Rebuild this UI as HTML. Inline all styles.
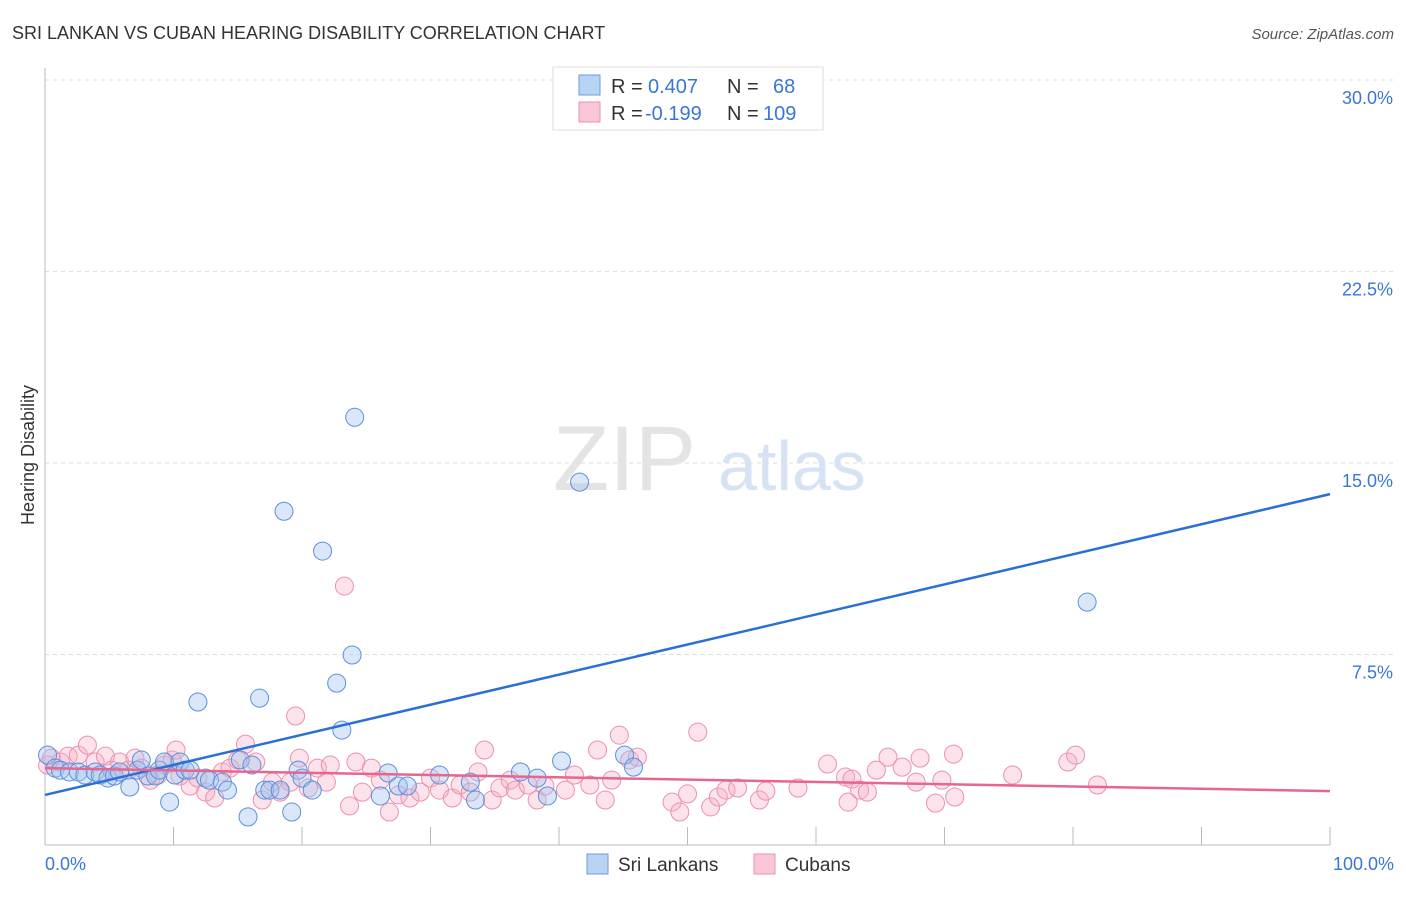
<!DOCTYPE html>
<html><head><meta charset="utf-8"><style>
body{margin:0;background:#fff;font-family:"Liberation Sans",sans-serif}
svg text{font-family:"Liberation Sans",sans-serif}
</style></head><body>
<svg id="chart" width="1406" height="892" xmlns="http://www.w3.org/2000/svg">
<text x="12" y="39" font-size="18" fill="#333">SRI LANKAN VS CUBAN HEARING DISABILITY CORRELATION CHART</text>
<text x="1394" y="39" font-size="15" fill="#555" text-anchor="end" font-style="italic">Source: ZipAtlas.com</text>
<g id="grid"></g>
<text x="553" y="490" font-size="92" fill="#e4e4e4" font-family="Liberation Serif">ZIP</text>
<text x="718" y="490" font-size="70" fill="#d6e3f5">atlas</text>
<g id="pts"></g>
<g id="lines"></g>
<text transform="translate(34,455) rotate(-90)" font-size="18" fill="#333" text-anchor="middle">Hearing Disability</text>
<g>
<rect x="553" y="67" width="270" height="63" fill="#fff" stroke="#ddd"/>
<rect x="579" y="75" width="21" height="20" fill="#b9d3f5" stroke="#6b9de0"/>
<rect x="579" y="102" width="21" height="20" fill="#f9c6d5" stroke="#eb92ad"/>
<text x="611" y="93" font-size="20" fill="#333">R =</text>
<text x="648" y="93" font-size="20" fill="#3a76d4">0.407</text>
<text x="727" y="93" font-size="20" fill="#333">N =</text>
<text x="773" y="93" font-size="20" fill="#3a76d4">68</text>
<text x="611" y="120" font-size="20" fill="#333">R =</text>
<text x="645" y="120" font-size="20" fill="#3a76d4">-0.199</text>
<text x="727" y="120" font-size="20" fill="#333">N =</text>
<text x="763" y="120" font-size="20" fill="#3a76d4">109</text>
</g>
<g>
<rect x="587" y="854" width="21" height="20" fill="#b9d3f5" stroke="#6b9de0"/>
<text x="618" y="871" font-size="19" fill="#333">Sri Lankans</text>
<rect x="754" y="854" width="21" height="20" fill="#f9c6d5" stroke="#eb92ad"/>
<text x="785" y="871" font-size="19" fill="#333">Cubans</text>
</g>
</svg>
<script>
const yTicks=[7.5,15,22.5,30];
const yTickLabels=["7.5%","15.0%","22.5%","30.0%"];
const xTickVals=[0,10,20,30,40,50,60,70,80,90,100];
const blueX=[0.2,0.8,1.2,1.9,2.6,3.1,3.9,4.3,4.9,5.4,5.8,6.6,7.2,7.5,8.0,8.6,8.9,9.3,9.7,10.1,10.5,10.9,11.3,11.9,12.5,12.8,13.8,14.2,15.2,15.8,16.1,16.7,17.1,17.5,18.3,18.6,19.2,19.7,20.0,20.8,21.6,22.7,23.1,23.9,24.1,26.1,26.7,27.5,28.2,30.7,33.1,33.5,37.0,38.3,39.1,40.2,41.6,45.1,45.8,52.1,81.1];
const blueY=[3.56,3.05,2.97,2.90,2.90,2.78,2.90,2.78,2.66,2.74,2.90,2.31,2.97,3.37,2.74,2.74,2.97,3.29,1.72,2.78,3.29,2.97,2.97,5.64,2.66,2.58,2.50,2.19,3.37,1.14,3.17,5.79,2.19,2.19,2.19,13.11,1.33,2.97,2.66,2.19,11.55,6.38,4.54,7.48,16.79,1.96,2.86,2.35,2.35,2.78,2.50,1.80,2.90,2.66,1.96,3.33,14.25,3.56,3.09,29.82,9.55];
const pinkX=[0.2,0.5,1.2,1.8,2.6,3.3,3.9,4.7,5.2,5.8,6.5,7.0,7.5,8.2,8.8,9.3,9.9,10.2,10.5,11.3,11.9,12.5,13.2,13.8,14.4,15.0,15.6,16.4,16.9,17.7,18.3,19.1,19.5,19.8,20.5,21.2,21.9,22.2,23.3,23.7,24.2,24.7,25.4,26.1,26.8,27.5,28.4,29.2,30.0,30.7,31.7,32.3,33.1,33.7,34.2,34.8,35.4,36.2,36.6,37.6,38.3,38.9,40.5,41.2,42.4,43.0,43.6,44.1,44.7,45.5,46.1,48.8,49.4,50.0,50.8,51.8,52.4,53.0,53.9,55.6,56.1,58.6,60.9,62.3,62.5,62.8,63.4,64.0,64.7,65.6,66.7,67.8,68.1,69.3,69.8,70.7,70.8,75.3,79.6,80.2,81.9];
const pinkY=[3.17,3.44,3.29,3.52,3.56,3.95,3.29,3.52,2.97,3.29,2.97,3.44,3.05,2.58,2.78,3.17,3.37,3.76,2.74,2.35,2.66,2.11,1.88,2.90,3.05,3.37,3.99,3.29,1.80,2.50,2.11,2.50,5.09,3.44,2.27,3.05,2.50,3.17,10.18,1.57,3.29,2.11,3.05,2.58,1.33,2.00,1.88,2.11,2.66,2.19,1.88,2.39,2.11,2.90,3.76,1.80,2.27,2.58,2.19,2.39,1.80,2.35,2.19,2.78,2.39,3.76,1.80,2.58,4.34,3.37,3.48,1.72,1.33,2.04,4.46,1.53,1.92,2.19,2.27,1.80,2.15,2.27,3.21,2.70,1.72,2.62,2.19,2.11,2.97,3.48,3.09,2.50,3.44,1.68,2.58,3.60,1.92,2.78,3.29,3.56,2.39];
const blueTrend=[2.0,13.78];
const pinkTrend=[3.05,2.15];
const X0=45,X1=1330,Y0=846,PXPER=191.5/7.5;
function sx(v){return X0+(X1-X0)*v/100;}
function sy(v){return Y0-v*PXPER;}
const NS="http://www.w3.org/2000/svg";
function mk(t,a,p){const e=document.createElementNS(NS,t);for(const k in a)e.setAttribute(k,a[k]);p.appendChild(e);return e;}
const grid=document.getElementById('grid');
yTicks.forEach((v,i)=>{
 const l=mk('line',{x1:X0,x2:1394,y1:sy(v),y2:sy(v),stroke:'#ddd','stroke-dasharray':'4,4'},grid);
 
 
 const t=mk('text',{x:1393,y:sy(v)+24,'font-size':18,fill:'#3a76d4','text-anchor':'end'},grid);
 t.textContent=yTickLabels[i];
 
 
});
const ax=mk('line',{x1:X0,x2:X0,y1:68,y2:845,stroke:'#bbb'},grid);


const bx=mk('line',{x1:X0,x2:X1,y1:845,y2:845,stroke:'#bbb'},grid);


xTickVals.forEach(v=>{
 const t=mk('line',{x1:sx(v),x2:sx(v),y1:827,y2:845,stroke:'#bbb'},grid);
 
 
});
const xl=mk('text',{x:45,y:870,'font-size':18,fill:'#3a76d4'},grid);xl.textContent='0.0%';


const xr=mk('text',{x:1394,y:870,'font-size':18,fill:'#3a76d4','text-anchor':'end'},grid);xr.textContent='100.0%';


const pts=document.getElementById('pts');
pinkX.forEach((x,i)=>{
 const c=mk('circle',{cx:sx(x),cy:sy(pinkY[i]),r:9,fill:'rgba(246,176,198,0.35)',stroke:'#ec90ac','stroke-width':1},pts);
 
 
});
blueX.forEach((x,i)=>{
 const c=mk('circle',{cx:sx(x),cy:sy(blueY[i]),r:9,fill:'rgba(160,195,240,0.4)',stroke:'#5b90dc','stroke-width':1},pts);
 
 
});
const lines=document.getElementById('lines');
const bl=mk('line',{x1:sx(0),y1:sy(blueTrend[0]),x2:sx(100),y2:sy(blueTrend[1]),stroke:'#2a6fd6','stroke-width':2.5},lines);


const pl=mk('line',{x1:sx(0),y1:sy(pinkTrend[0]),x2:sx(100),y2:sy(pinkTrend[1]),stroke:'#e8658e','stroke-width':2.5},lines);


</script>
</body></html>
